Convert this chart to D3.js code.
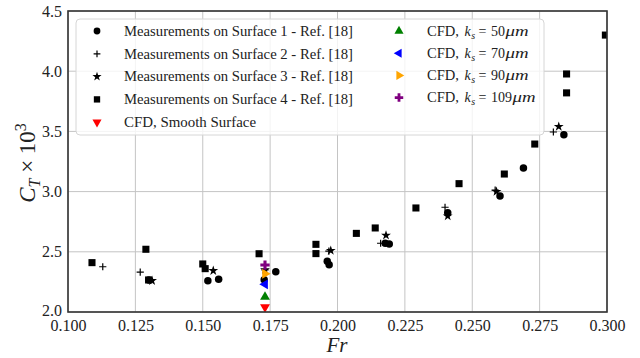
<!DOCTYPE html>
<html>
<head>
<meta charset="utf-8">
<script src="https://cdn.jsdelivr.net/npm/d3@7"></script>
<style>
  html, body { margin: 0; padding: 0; background: #fff; }
  svg { display: block; }
  text { font-family: "Liberation Serif", "DejaVu Serif", serif; fill: #222; }
</style>
</head>
<body>
<svg id="chart" width="640" height="358"></svg>
<script>
// Froude number / total resistance coefficient measurements on four surfaces
const frS1 = [0.1300, 0.1519, 0.1559, 0.1728, 0.1771, 0.1962, 0.1969, 0.2177, 0.2192, 0.2409, 0.2603, 0.2690, 0.2840];
const ctS1 = [2.266, 2.260, 2.272, 2.268, 2.335, 2.421, 2.393, 2.571, 2.565, 2.825, 2.963, 3.196, 3.473];

const frS2 = [0.1129, 0.1268, 0.1731, 0.1968, 0.2160, 0.2399, 0.2585, 0.2801];
const ctS2 = [2.376, 2.332, 2.350, 2.505, 2.571, 2.870, 3.012, 3.495];

const frS3 = [0.1312, 0.1539, 0.1731, 0.1975, 0.2180, 0.2409, 0.2590, 0.2821];
const ctS3 = [2.260, 2.343, 2.350, 2.510, 2.637, 2.797, 3.000, 3.540];

const frS4 = [0.1089, 0.1289, 0.1299, 0.1500, 0.1509, 0.1709, 0.1920, 0.1920, 0.2070, 0.2140, 0.2291, 0.2451, 0.2619, 0.2732, 0.2850, 0.2850, 0.2994];
const ctS4 = [2.410, 2.521, 2.266, 2.399, 2.360, 2.484, 2.562, 2.485, 2.653, 2.698, 2.864, 3.066, 3.146, 3.395, 3.977, 3.820, 4.300];

// CFD results at a single Froude number
const frCFD = 0.1731;
const ctCFDSmooth = 2.04;
const ctCFD50 = 2.125;
const ctCFD70 = 2.23;
const ctCFD90 = 2.318;
const ctCFD109 = 2.39;

const xTicks = [0.100, 0.125, 0.150, 0.175, 0.200, 0.225, 0.250, 0.275, 0.300];
const yTicks = [2.0, 2.5, 3.0, 3.5, 4.0, 4.5];

const svg = d3.select("#chart");
const pLeft = 68, pRight = 607, pTop = 11, pBottom = 312;

const x = d3.scaleLinear().domain([0.1, 0.3]).range([pLeft, pRight]);
const y = d3.scaleLinear().domain([2.0, 4.5]).range([pBottom, pTop]);

svg.append("defs").append("clipPath").attr("id", "plotClip")
  .append("rect").attr("x", pLeft).attr("y", pTop)
  .attr("width", pRight - pLeft).attr("height", pBottom - pTop);

// grid
const grid = svg.append("g");
grid.selectAll(".gx").data(xTicks).join("line")
  .attr("x1", d => x(d)).attr("x2", d => x(d))
  .attr("y1", pTop).attr("y2", pBottom)
  .attr("stroke", "#c4c4c4").attr("stroke-width", 1);
grid.selectAll(".gy").data(yTicks).join("line")
  .attr("x1", pLeft).attr("x2", pRight)
  .attr("y1", d => y(d)).attr("y2", d => y(d))
  .attr("stroke", "#c4c4c4").attr("stroke-width", 1);

// axes (labels only, no tick marks)
const xAxis = d3.axisBottom(x).tickValues(xTicks).tickFormat(d3.format(".3f")).tickSize(0).tickPadding(8);
const gx = svg.append("g").attr("transform", `translate(0,${pBottom})`).call(xAxis);
gx.select(".domain").remove();
gx.selectAll("text").attr("font-size", 16).attr("font-family", "Liberation Serif").attr("fill", "#222");

const yAxis = d3.axisLeft(y).tickValues(yTicks).tickFormat(d3.format(".1f")).tickSize(0).tickPadding(6);
const gy = svg.append("g").attr("transform", `translate(${pLeft},0)`).call(yAxis);
gy.select(".domain").remove();
gy.selectAll("text").attr("font-size", 16).attr("font-family", "Liberation Serif").attr("fill", "#222")
  .attr("dy", d => d === 2.0 ? "0.2em" : "0.32em");

// markers
const plot = svg.append("g").attr("clip-path", "url(#plotClip)");

function symbolPath(type, size) { return d3.symbol().type(type).size(size)(); }

function drawSymbols(frs, cts, type, size, color, rot) {
  plot.append("g").selectAll("path").data(frs).join("path")
    .attr("d", symbolPath(type, size))
    .attr("transform", (d, i) => `translate(${x(d)},${y(cts[i])}) rotate(${rot || 0})`)
    .attr("fill", color);
}
function drawPlus(frs, cts, half, color) {
  plot.append("g").selectAll("path").data(frs).join("path")
    .attr("d", `M${-half},0H${half}M0,${-half}V${half}`)
    .attr("transform", (d, i) => `translate(${x(d)},${y(cts[i])})`)
    .attr("stroke", color).attr("stroke-width", 1.2).attr("fill", "none");
}

drawSymbols(frS1, ctS1, d3.symbolCircle, 44, "#000");
drawPlus(frS2, ctS2, 3.6, "#000");
drawSymbols(frS3, ctS3, d3.symbolStar, 30, "#000");
drawSymbols(frS4, ctS4, d3.symbolSquare, 50, "#000");
drawSymbols([frCFD], [ctCFDSmooth], d3.symbolTriangle, 42, "#ff0000", 180);
drawSymbols([frCFD], [ctCFD50], d3.symbolTriangle, 42, "#008000", 0);
drawSymbols([frCFD], [ctCFD70], d3.symbolTriangle, 42, "#0000ff", -90);
drawSymbols([frCFD], [ctCFD90], d3.symbolTriangle, 42, "#ffa500", 90);
drawSymbols([frCFD], [ctCFD109], d3.symbolCross, 48, "#800080", 0);

// frame
svg.append("rect").attr("x", pLeft).attr("y", pTop)
  .attr("width", pRight - pLeft).attr("height", pBottom - pTop)
  .attr("fill", "none").attr("stroke", "#333").attr("stroke-width", 1.6);

// legend
const legend = svg.append("g");
legend.append("rect").attr("x", 76).attr("y", 19).attr("width", 468).attr("height", 116)
  .attr("rx", 4).attr("fill", "#fff").attr("fill-opacity", 0.8)
  .attr("stroke", "#d6d6d6").attr("stroke-width", 1);

const legendFont = 14;
const leftItems = [
  { label: "Measurements on Surface 1 - Ref. [18]", kind: "circle", width: 229 },
  { label: "Measurements on Surface 2 - Ref. [18]", kind: "plus", width: 229 },
  { label: "Measurements on Surface 3 - Ref. [18]", kind: "star", width: 229 },
  { label: "Measurements on Surface 4 - Ref. [18]", kind: "square", width: 229 },
  { label: "CFD, Smooth Surface", kind: "down", width: 132 }
];
const rightItems = [
  { ks: "50", kind: "up", color: "#008000" },
  { ks: "70", kind: "left", color: "#0000ff" },
  { ks: "90", kind: "right", color: "#ffa500" },
  { ks: "109", kind: "cross", color: "#800080" }
];

function legendMarker(g, kind, color, cx, cy) {
  const c = color || "#000";
  const map = {
    circle: [d3.symbolCircle, 36, 0], star: [d3.symbolStar, 26, 0], square: [d3.symbolSquare, 40, 0],
    down: [d3.symbolTriangle, 36, 180], up: [d3.symbolTriangle, 36, 0],
    left: [d3.symbolTriangle, 36, -90], right: [d3.symbolTriangle, 36, 90], cross: [d3.symbolCross, 40, 0]
  };
  if (kind === "plus") {
    g.append("path").attr("d", "M-3.4,0H3.4M0,-3.4V3.4")
      .attr("transform", `translate(${cx},${cy})`)
      .attr("stroke", c).attr("stroke-width", 1.2).attr("fill", "none");
    return;
  }
  const [t, s, r] = map[kind];
  g.append("path").attr("d", symbolPath(t, s))
    .attr("transform", `translate(${cx},${cy}) rotate(${r})`).attr("fill", kind === "down" ? "#ff0000" : c);
}

leftItems.forEach((it, i) => {
  const cy = 31 + i * 22.8;
  legendMarker(legend, it.kind, null, 97, cy);
  legend.append("text").attr("x", 124).attr("y", cy + 4.8).attr("font-size", legendFont)
    .attr("textLength", it.width).attr("lengthAdjust", "spacingAndGlyphs")
    .attr("fill", "#333").text(it.label);
});

// "CFD, k_s = NNμm" laid out piece by piece to keep math spacing
rightItems.forEach((it, i) => {
  const cy = 31 + i * 22.2;
  const by = cy + 4.8;
  legendMarker(legend, it.kind, it.color, 399, cy);
  const g = legend.append("g").attr("fill", "#333");
  g.append("text").attr("x", 427).attr("y", by).attr("font-size", legendFont)
    .attr("textLength", 32).attr("lengthAdjust", "spacingAndGlyphs").text("CFD,");
  g.append("text").attr("x", 464.5).attr("y", by).attr("font-size", legendFont)
    .attr("font-style", "italic").text("k");
  g.append("text").attr("x", 471.2).attr("y", by + 3).attr("font-size", 10)
    .attr("font-style", "italic").text("s");
  g.append("text").attr("x", 478.5).attr("y", by).attr("font-size", legendFont).text("=");
  const numW = it.ks.length * 7;
  g.append("text").attr("x", 491).attr("y", by).attr("font-size", legendFont)
    .attr("textLength", numW).attr("lengthAdjust", "spacingAndGlyphs").text(it.ks);
  g.append("text").attr("x", 491 + numW + 0.5).attr("y", by).attr("font-size", legendFont)
    .attr("font-style", "italic").attr("textLength", 23).attr("lengthAdjust", "spacingAndGlyphs").text("μm");
});

// axis titles
const yl = svg.append("text").attr("transform", "translate(35,163) rotate(-90)")
  .attr("text-anchor", "middle").attr("font-size", 23).attr("fill", "#222");
yl.append("tspan").attr("font-style", "italic").text("C");
yl.append("tspan").attr("font-style", "italic").attr("font-size", 16).attr("dy", 5).text("T");
yl.append("tspan").attr("dy", -5).text(" × 10");
yl.append("tspan").attr("font-size", 16).attr("dy", -9).text("3");

svg.append("text").attr("x", 337).attr("y", 352).attr("text-anchor", "middle")
  .attr("font-size", 21).attr("font-style", "italic").attr("fill", "#222").text("Fr");
</script>
</body>
</html>
